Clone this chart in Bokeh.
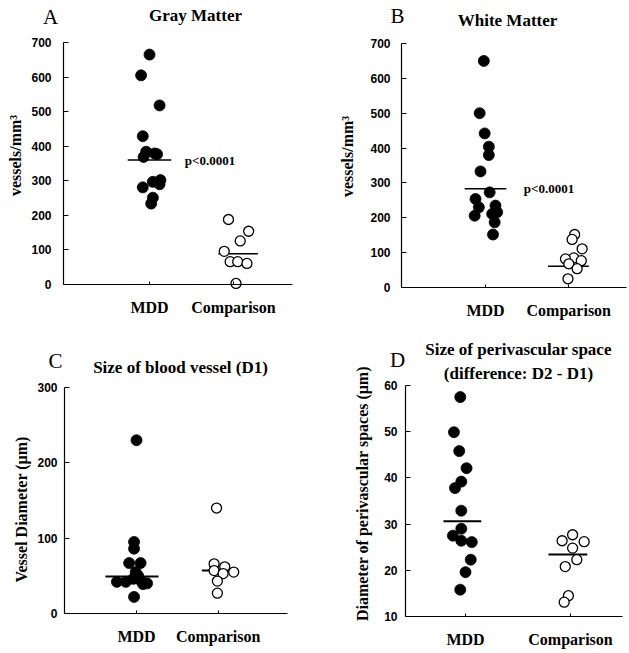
import math
from bokeh.plotting import figure
from bokeh.models import Label, FixedTicker, Range1d
from bokeh.layouts import gridplot
from bokeh.embed import file_html
from bokeh.resources import INLINE

# ---------------- data ----------------
group_labels = ["MDD", "Comparison"]
group_pos = [1, 2]

# A: Gray Matter (vessels/mm^3)
gray_mdd = [665, 605, 518, 429, 384, 379, 377, 369, 302, 297, 290, 281, 251, 234]
gray_mdd_jitter = [0.00, -0.10, 0.12, -0.08, -0.04, 0.06, 0.09, -0.07, 0.13, 0.04, 0.12, -0.08, 0.04, 0.02]
gray_cmp = [188, 154, 126, 96, 66, 66, 61, 3]
gray_cmp_jitter = [-0.06, 0.18, 0.08, -0.11, -0.04, 0.05, 0.16, 0.03]
gray_means = [360, 89]
gray_ticks = [0, 100, 200, 300, 400, 500, 600, 700]

# B: White Matter (vessels/mm^3)
white_mdd = [650, 500, 442, 404, 380, 333, 273, 254, 235, 230, 216, 211, 206, 187, 152]
white_mdd_jitter = [-0.02, -0.07, -0.01, 0.04, 0.04, -0.06, 0.05, -0.12, 0.12, -0.08, 0.14, 0.08, -0.13, 0.11, 0.09]
white_cmp = [152, 138, 111, 85, 82, 77, 68, 54, 25]
white_cmp_jitter = [0.07, 0.04, 0.16, 0.06, -0.04, 0.15, 0.00, 0.10, -0.01]
white_means = [283, 61]
white_ticks = [0, 100, 200, 300, 400, 500, 600, 700]

# C: Size of blood vessel (D1), um
vessel_mdd = [230, 95, 86, 67, 67, 55, 50, 46, 44, 42, 42, 40, 39, 22]
vessel_mdd_jitter = [0.0, -0.03, -0.03, -0.09, 0.05, -0.01, 0.02, -0.04, 0.05, -0.24, -0.13, 0.13, 0.08, -0.03]
vessel_cmp = [140, 66, 62, 57, 55, 53, 43, 27]
vessel_cmp_jitter = [-0.02, -0.05, 0.08, -0.05, 0.19, 0.06, -0.01, -0.01]
vessel_means = [49, 57]
vessel_ticks = [0, 100, 200, 300]

# D: Size of perivascular space (D2 - D1), um
peri_mdd = [57.5, 49.9, 45.8, 42.1, 39.2, 37.8, 32.9, 29.0, 27.5, 26.4, 26.1, 22.3, 19.6, 15.8]
peri_mdd_jitter = [-0.05, -0.11, -0.06, 0.01, -0.04, -0.10, -0.04, -0.04, -0.12, -0.04, 0.06, 0.05, 0.0, -0.05]
peri_cmp = [27.7, 26.4, 26.2, 24.8, 22.3, 20.8, 14.5, 13.1]
peri_cmp_jitter = [0.02, -0.08, 0.13, 0.02, 0.06, -0.05, -0.02, -0.06]
peri_means = [30.6, 23.4]
peri_ticks = [10, 20, 30, 40, 50, 60]

SERIF = "Liberation Serif"
SANS = "Liberation Sans"


def make_panel(cfg):
    ox, oy = cfg["origin"]
    w, h = cfg["size"]
    gx1, gx2 = cfg["group_px"]
    (v_lo, py_lo), (v_hi, py_hi) = cfg["yref"]
    ux = gx2 - gx1
    x0 = group_pos[0] - (gx1 - ox) / ux
    x1 = x0 + w / ux
    uy = (py_lo - py_hi) / (v_hi - v_lo)
    y1 = v_hi + (py_hi - oy) / uy
    y0 = y1 - h / uy

    def to_data(X, Y):
        return (x0 + (X - ox) / ux, y1 - (Y - oy) / uy)

    p = figure(width=w, height=h, title=None,
               x_range=Range1d(x0, x1), y_range=Range1d(y0, y1),
               output_backend="svg", toolbar_location=None, min_border=0)
    p.outline_line_color = None
    p.xgrid.visible = False
    p.ygrid.visible = False
    p.background_fill_color = "white"
    p.border_fill_color = "white"

    ticks = cfg["ticks"]
    yaxis_x, _ = to_data(cfg["yaxis_px"], 0)
    xend, _ = to_data(cfg["xend_px"], 0)

    xa = p.xaxis[0]
    xa.fixed_location = ticks[0]
    xa.bounds = (yaxis_x, xend)
    xa.ticker = FixedTicker(ticks=group_pos)
    xa.major_label_overrides = {group_pos[i]: group_labels[i] for i in range(2)}
    xa.major_label_text_font = SERIF
    xa.major_label_text_font_style = "bold"
    xa.major_label_text_font_size = "16px"
    xa.major_label_text_color = "black"
    xa.major_label_standoff = 14
    xa.major_tick_in = 3
    xa.major_tick_out = 0
    xa.minor_tick_in = 0
    xa.minor_tick_out = 0
    xa.axis_line_color = "black"
    xa.axis_line_width = 1.2
    xa.major_tick_line_color = "black"

    ya = p.yaxis[0]
    ya.fixed_location = yaxis_x
    ya.bounds = (ticks[0], ticks[-1])
    ya.ticker = FixedTicker(ticks=ticks)
    ya.major_label_text_font = SANS
    ya.major_label_text_font_style = "bold"
    ya.major_label_text_font_size = "12px"
    ya.major_label_text_color = "black"
    ya.major_label_standoff = cfg["ystandoff"]
    ya.major_tick_in = 5
    ya.major_tick_out = 0
    ya.minor_tick_in = 0
    ya.minor_tick_out = 0
    ya.axis_line_color = "black"
    ya.axis_line_width = 1.2
    ya.major_tick_line_color = "black"

    # mean lines
    spans = cfg["spans"]
    means = cfg["means"]
    p.segment(x0=[group_pos[i] + spans[i][0] for i in range(2)], y0=means,
              x1=[group_pos[i] + spans[i][1] for i in range(2)], y1=means,
              line_color="black", line_width=cfg["mean_w"])

    mdd, mj = cfg["mdd"]
    cmp_, cj = cfg["cmp"]
    p.scatter(x=[group_pos[0] + j for j in mj], y=mdd, marker="circle", size=11,
              fill_color="black", line_color="black", line_width=0.8)
    p.scatter(x=[group_pos[1] + j for j in cj], y=cmp_, marker="circle", size=10,
              fill_color="white", line_color="black", line_width=1.3)

    for t in cfg["texts"]:
        text, X, Y, font, size, style, rot = t
        dx, dy = to_data(X, Y)
        p.add_layout(Label(x=dx, y=dy, text=text, text_font=font, text_font_size=size,
                           text_font_style=style, text_align="center",
                           text_baseline="middle", text_color="black",
                           angle=(math.pi / 2 if rot else 0)))
    if cfg.get("pval") is not None:
        px, py = cfg["pval"]
        p.add_layout(Label(x=px, y=py, text="p<0.0001", text_font=SERIF,
                           text_font_size="13px", text_font_style="bold",
                           text_align="left", text_baseline="middle",
                           text_color="black"))
    return p


pa = make_panel(dict(
    origin=(0, 0), size=(315, 320), yaxis_px=63, xend_px=292,
    group_px=(149, 233), yref=((0, 284), (700, 42)),
    ticks=gray_ticks, ystandoff=12,
    means=gray_means, spans=[(-0.26, 0.26), (-0.18, 0.29)], mean_w=1.5,
    mdd=(gray_mdd, gray_mdd_jitter), cmp=(gray_cmp, gray_cmp_jitter),
    pval=(1.42, gray_means[0]),
    texts=[("A", 50, 16, SERIF, "21px", "normal", False),
           ("Gray Matter", 195, 15, SERIF, "17px", "bold", False),
           ("vessels/mm\u00b3", 15, 155, SERIF, "16px", "bold", True)]))

pb = make_panel(dict(
    origin=(315, 0), size=(313, 320), yaxis_px=401, xend_px=626,
    group_px=(485, 568.3), yref=((0, 287), (700, 43)),
    ticks=white_ticks, ystandoff=11,
    means=white_means, spans=[(-0.25, 0.25), (-0.25, 0.24)], mean_w=1.5,
    mdd=(white_mdd, white_mdd_jitter), cmp=(white_cmp, white_cmp_jitter),
    pval=(1.46, white_means[0]),
    texts=[("B", 397, 15, SERIF, "21px", "normal", False),
           ("White Matter", 507, 20, SERIF, "17px", "bold", False),
           ("vessels/mm\u00b3", 347, 156, SERIF, "16px", "bold", True)]))

pc = make_panel(dict(
    origin=(0, 320), size=(315, 332), yaxis_px=64, xend_px=287,
    group_px=(136, 217.7), yref=((0, 613), (300, 387)),
    ticks=vessel_ticks, ystandoff=7,
    means=vessel_means, spans=[(-0.38, 0.27), (-0.2, 0.2)], mean_w=2,
    mdd=(vessel_mdd, vessel_mdd_jitter), cmp=(vessel_cmp, vessel_cmp_jitter),
    texts=[("C", 55, 360, SERIF, "21px", "normal", False),
           ("Size of blood vessel (D1)", 180, 367, SERIF, "17px", "bold", False),
           ("Vessel Diameter (\u03bcm)", 21, 509, SERIF, "16px", "bold", True)]))

pd_ = make_panel(dict(
    origin=(315, 320), size=(313, 332), yaxis_px=405, xend_px=622,
    group_px=(465, 570), yref=((10, 616), (60, 385)),
    ticks=peri_ticks, ystandoff=8,
    means=peri_means, spans=[(-0.21, 0.15), (-0.21, 0.16)], mean_w=2,
    mdd=(peri_mdd, peri_mdd_jitter), cmp=(peri_cmp, peri_cmp_jitter),
    texts=[("D", 397, 359, SERIF, "21px", "normal", False),
           ("Size of perivascular space", 518, 349, SERIF, "17px", "bold", False),
           ("(difference: D2 - D1)", 518, 373, SERIF, "17px", "bold", False),
           ("Diameter of perivascular  spaces (\u03bcm)", 362, 491, SERIF, "16px", "bold", True)]))

grid = gridplot([[pa, pb], [pc, pd_]], toolbar_location=None)

open("out.html", "w").write(file_html(grid, INLINE))
